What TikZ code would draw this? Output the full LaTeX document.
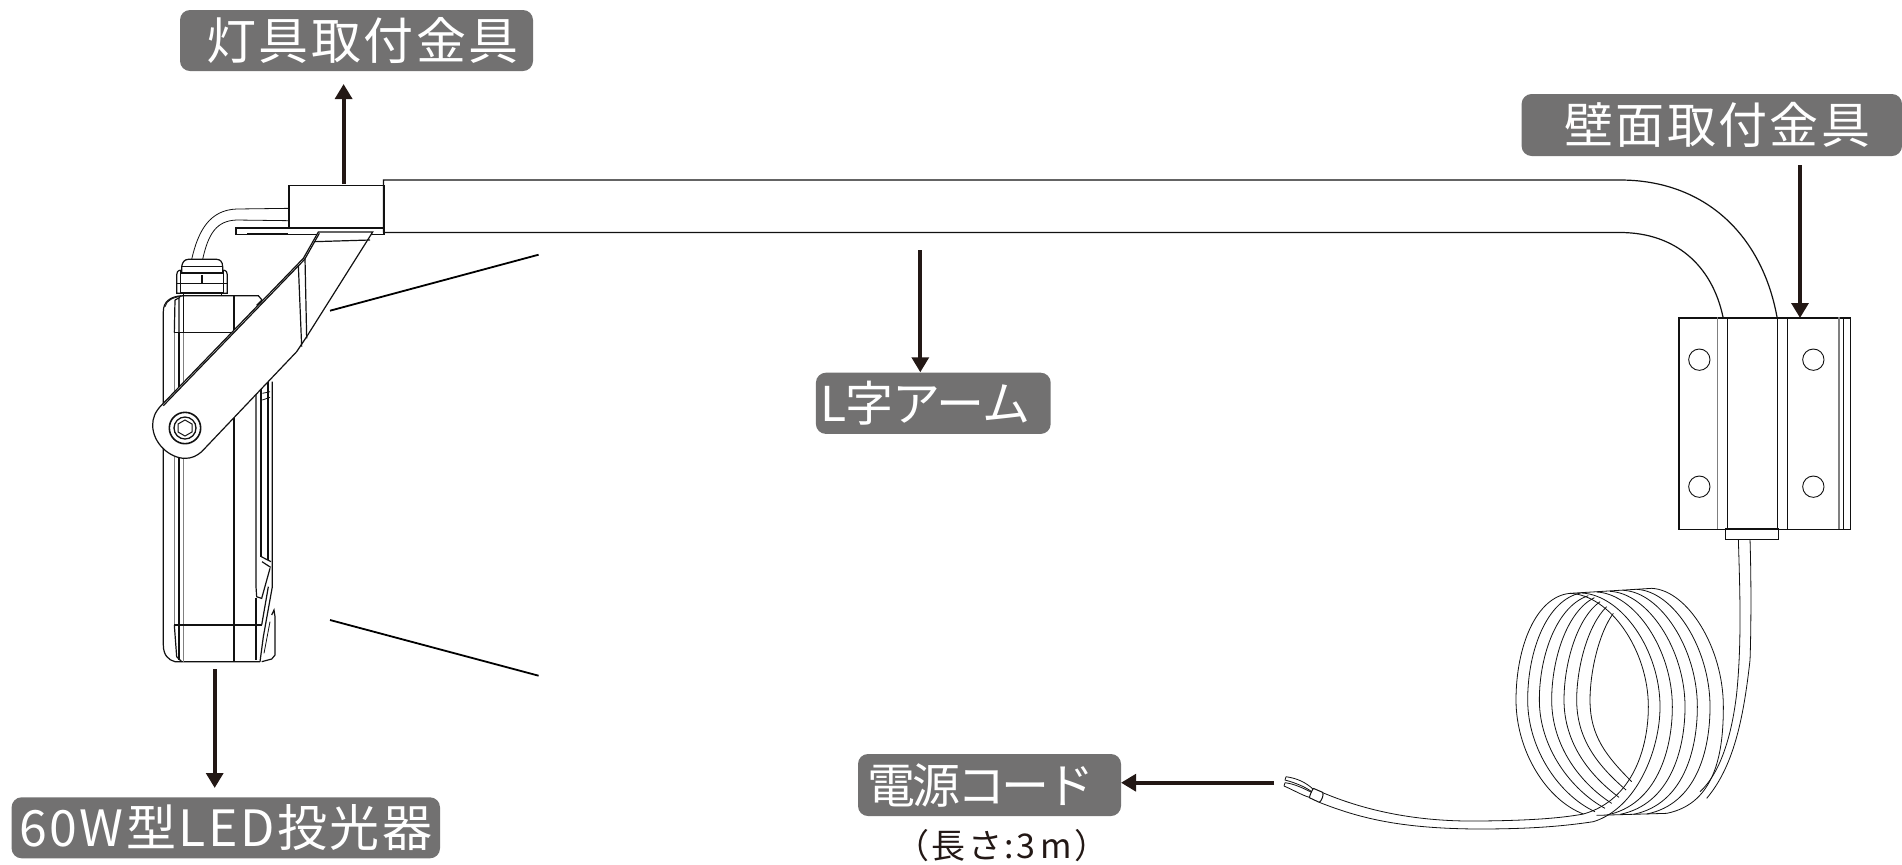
\documentclass[tikz,border=0pt]{standalone}
\usepackage{fontspec}
\usetikzlibrary{arrows.meta}
\newfontfamily\cjk{Noto Sans CJK JP}
\definecolor{lblgray}{HTML}{727171}
\definecolor{ink}{HTML}{231815}
\definecolor{linecol}{HTML}{111111}
\tikzset{
  lbl/.style={fill=lblgray,text=white,rounded corners=5pt,inner sep=0pt,font=\cjk\fontsize{24}{24}\selectfont},
  callout/.style={draw=ink,line width=1.9pt,-{Triangle[length=7.5pt,width=8.4pt]}},
  part/.style={draw=linecol,line width=.6pt},
  thinpart/.style={draw=linecol,line width=.4pt},
  boldpart/.style={draw=linecol,line width=1pt},
  greypart/.style={draw=gray,line width=.6pt},
  zoomed/.style={x=0.16667pt,y=-0.16667pt},
  cordline/.style={draw=linecol,line width=.4pt,line join=round}
}
\begin{document}
\begin{tikzpicture}[x=0.5pt,y=-0.5pt]
\useasboundingbox (0,0) rectangle (1902,864);
% ---- lamp body and wires (zoom coordinates)
\begin{scope}[shift={(130,160)},zoomed]
  \draw[part] (155,407) .. controls (120,410) and (100,425) .. (100,455) -- (100,1455) .. controls (100,1485) and (115,1500) .. (135,1505) -- (390,1505);
  \draw[thinpart] (105,440) .. controls (110,420) and (130,412) .. (158,408);
  \draw[part] (155,407) -- (385,407) -- (396,420) -- (380,436);
  \draw[greypart] (133,520) -- (133,1395);
  \draw[boldpart] (147,520) -- (147,1500);
  \draw[greypart] (160,520) -- (160,1505);
  \draw[part] (160,407) -- (160,520);
  \draw[part] (135,420) -- (150,412) (135,420) -- (133,517) (147,415) -- (147,517);
  \draw[part] (133,517) -- (305,517);
  \draw[part] (133,1395) -- (395,1395);
  \draw[part] (133,1395) -- (140,1490) -- (155,1505);
  \draw[part] (312,407) -- (312,1505);
  \draw[part] (378,660) -- (378,1280) -- (380,1310) -- (395,1315) -- (420,1225);
  \draw[part] (378,1315) -- (378,1500);
  \draw[boldpart] (394,670) -- (394,1190);
  \draw[boldpart] (415,665) -- (415,1200);
  \draw[part] (427,665) -- (427,1280) -- (400,1430) -- (390,1505);
  \draw[thinpart] (397,700) -- (420,695) (397,720) -- (420,712);
  \draw[part] (394,1190) -- (423,1205) (396,1205) -- (422,1222);
  \draw[part] (415,1280) -- (395,1395);
  \draw[part] (425,1365) -- (432,1350) -- (435,1370) -- (435,1485) -- (425,1497) -- (395,1505);
  \draw[thinpart] (420,1385) -- (402,1480);
  % wires
  \draw[thinpart] (185,298) .. controls (205,210) and (240,150) .. (320,147) -- (475,145);
  \draw[thinpart] (218,298) .. controls (235,220) and (260,182) .. (320,180) -- (475,182);
\end{scope}
% gland
\begin{scope}[shift={(150,250)},zoomed]
  \draw[part] (95,68) -- (95,50) .. controls (97,35) and (105,28) .. (115,28) -- (200,28) .. controls (210,28) and (218,35) .. (218,50) -- (218,68);
  \draw[thinpart] (95,48) -- (218,48);
  \draw[part] (92,60) .. controls (82,62) and (80,68) .. (80,75) -- (80,130) -- (100,130);
  \draw[part] (220,60) .. controls (230,62) and (232,68) .. (232,75) -- (232,130) -- (212,130);
  \draw[part] (92,60) -- (92,130) (220,60) -- (220,130);
  \draw[thinpart] (80,100) -- (232,100);
  \draw[boldpart] (92,70) -- (220,70) (92,128) -- (220,128);
  \draw[boldpart] (155,76) -- (155,98);
  \draw[part] (100,130) -- (100,137) (215,130) -- (215,137);
\end{scope}
% plate, fixture bracket, arm
\node[part,fill=white,minimum width=74pt,minimum height=3.4pt,inner sep=0pt,anchor=north west,rectangle] (plate) at (235.3,227.3) {};
\draw[boldpart] (247,234) -- (288,234);
\node[part,fill=white,minimum width=47.5pt,minimum height=21.2pt,inner sep=0pt,anchor=north west,rectangle] (fixturebox) at (288.3,185) {};
\draw[part] (383.5,232.5) -- (383.5,180) -- (1620,180) .. controls (1705,180) and (1762,235) .. (1777,317);
\draw[part] (383.5,232.5) -- (1620,232.5) .. controls (1675,232.5) and (1712,265) .. (1723,317);
% band
\begin{scope}[shift={(130,160)},zoomed]
  \filldraw[part,fill=white] (565,216) -- (520,295) -- (95,735) .. controls (75,755) and (68,775) .. (68,795) .. controls (68,850) and (120,895) .. (165,895) .. controls (185,895) and (200,888) .. (215,875) -- (500,575) -- (530,530) -- (728,216) -- cycle;
  \draw[part] (568,220) -- (524,298) -- (100,737);
  \draw[part] (552,245) -- (720,240);
  \draw[part] (505,315) -- (515,560);
  \draw[part] (525,295) -- (530,535);
  \draw[part,line width=.8pt] (165,804) circle[radius=47];
  \draw[part,line width=.65pt] (165,804) circle[radius=33];
  \draw[thinpart,line width=.5pt] (165,780) -- (186,792) -- (186,816) -- (165,828) -- (144,816) -- (144,792) -- cycle;
\end{scope}
% ---- wall bracket
\node[part,fill=white,minimum width=85.8pt,minimum height=105.9pt,inner sep=0pt,anchor=north west,rectangle] (wallbox) at (1678.3,317.3) {};
\begin{scope}[shift={(1600,160)},zoomed]
  \draw[greypart] (352,472) -- (352,1107);
  \draw[part] (382,472) -- (382,1107) (532,472) -- (532,1107) (562,472) -- (562,1107) (730,472) -- (730,1107);
  \draw[greypart] (717,472) -- (717,1107);
  \foreach \hx/\hy in {298/599,640/599,298/980,640/980}
    \draw[part,line width=.45pt] (\hx,\hy) circle[radius=32];
  \draw[part] (376,1107) rectangle (535,1138);
\end{scope}
% ---- coil and cord
\begin{scope}[shift={(1260,560)},zoomed]
  \foreach \k/\tx/\ty/\l/\bx/\by in {0/930/100/768/970/762, 1/962/99/803/1005/755, 2/985/107/838/1035/745, 3/1003/113/875/1055/730, 4/1020/125/912/1077/712, 5/1040/140/950/1098/690, 6/1060/160/990/1115/665}{
    \pgfmathsetmacro\cax{\tx-(\tx-\l)*.63}
    \pgfmathsetmacro\cay{\ty+(420-\ty)*(.03+.033*\k)}
    \pgfmathsetmacro\cby{\ty+(420-\ty)*(.5+.03*\k)}
    \pgfmathsetmacro\ccy{420+.45*(\by-420)}
    \pgfmathsetmacro\cdx{\bx-110+6*\k}
    \pgfmathsetmacro\cdy{\by-42-5.5*\k}
    \draw[cordline] (\tx,\ty) .. controls (\cax,\cay) and (\l,\cby) .. (\l,420) .. controls (\l,\ccy) and (\cdx,\cdy) .. (\bx,\by);
  }
  \foreach \tx/\ty/\r/\bx/\by in {1010/96/1237/1040/765, 1050/94/1275/1080/763, 1090/91/1312/1120/763, 1130/88/1350/1160/762, 1175/85/1390/1220/760}{
    \pgfmathsetmacro\cax{\tx+(\r-\tx)*.5}
    \pgfmathsetmacro\cay{\ty+5}
    \pgfmathsetmacro\cby{\ty+(440-\ty)*.5}
    \pgfmathsetmacro\cdx{\bx+150}
    \pgfmathsetmacro\cdy{\by-30}
    \draw[cordline] (\tx,\ty) .. controls (\cax,\cay) and (\r,\cby) .. (\r,440) .. controls (\r,570) and (\cdx,\cdy) .. (\bx,\by);
  }
  \draw[cordline] (930,100) -- (1175,85);
  \draw[cordline] (1010,766) -- (1220,760);
  % free cord: the two front strands
  \draw[cordline] (930,100) .. controls (1050,105) and (1165,270) .. (1165,440) .. controls (1165,560) and (1120,720) .. (970,762) .. controls (900,775) and (800,782) .. (650,783) .. controls (450,785) and (300,745) .. (188,698);
  \draw[cordline] (965,99) .. controls (1085,105) and (1200,270) .. (1200,440) .. controls (1200,570) and (1130,745) .. (1000,785) .. controls (900,800) and (800,807) .. (650,807) .. controls (420,805) and (300,775) .. (178,727);
  % incoming cord
  \draw[cordline] (1470,-62) .. controls (1475,100) and (1472,250) .. (1470,300) .. controls (1450,480) and (1420,620) .. (1340,715);
  \draw[cordline] (1435,-62) .. controls (1440,100) and (1445,250) .. (1430,400) .. controls (1415,530) and (1380,640) .. (1320,695);
  % cut end
  \draw[cordline,line width=.5pt] (160,685) -- (188,697) .. controls (192,705) and (185,722) .. (178,727) -- (148,713) .. controls (150,705) and (155,692) .. (160,685);
  \draw[cordline] (160,688) .. controls (135,665) and (110,655) .. (78,650) -- (75,660) .. controls (105,668) and (135,680) .. (155,695);
  \draw[cordline] (155,697) .. controls (130,685) and (105,672) .. (75,668) -- (72,678) .. controls (100,690) and (125,705) .. (148,712);
\end{scope}
% ---- slanted lines
\coordinate (raytopA) at (330,310.7);
\coordinate (raytopB) at (538.6,254.7);
\coordinate (raybotA) at (330,620);
\coordinate (raybotB) at (538.6,675.7);
\draw[draw=black,line width=.9pt] (raytopA) -- (raytopB);
\draw[draw=black,line width=.9pt] (raybotA) -- (raybotB);
% ---- labels
\node[lbl,minimum width=176.5pt,minimum height=30.5pt] (lampbr) at (356.5,40.5) {\hspace*{6pt}\fontsize{25}{25}\selectfont\addfontfeature{LetterSpace=5}灯具取付金具};
\node[lbl,minimum width=190.2pt,minimum height=31pt] (wallbr) at (1711.8,125) {\hspace*{5.5pt}\fontsize{24.5}{25}\selectfont\addfontfeature{LetterSpace=5}壁面取付金具};
\node[lbl,minimum width=117.4pt,minimum height=30.6pt] (larm) at (933.3,403.3) {\addfontfeature{LetterSpace=-2}L字アーム\hspace*{8pt}};
\node[lbl,minimum width=131.5pt,minimum height=31pt] (cordlbl) at (989.5,785) {\addfontfeature{LetterSpace=-7}電源コード\hspace*{8.3pt}};
\node[lbl,minimum width=214.2pt,minimum height=30.5pt] (ledlbl) at (225.8,827.8) {\fontsize{25}{25}\selectfont\addfontfeature{LetterSpace=5}60W型LED投光器};
\node[text=ink,inner sep=0pt,font=\cjk\fontsize{17}{17}\selectfont] (lenlbl) at (1002,846) {\addfontfeature{LetterSpace=7}（長さ:3\,m）};
% ---- arrows
\coordinate (a1s) at (343.6,184);  \coordinate (a1e) at (343.6,84);
\coordinate (a2s) at (1800,165);   \coordinate (a2e) at (1800,318);
\coordinate (a3s) at (920.3,250);
\coordinate (a4s) at (1274,782.7); \coordinate (a4e) at (1121,782.7);
\coordinate (a5s) at (214.7,669);  \coordinate (a5e) at (214.7,788);
\draw[callout] (a1s) -- (a1e);
\draw[callout] (a2s) -- (a2e);
\draw[callout] (a3s) -- (a3s |- larm.north);
\draw[callout] (a4s) -- (a4e);
\draw[callout] (a5s) -- (a5e);
\end{tikzpicture}
\end{document}
